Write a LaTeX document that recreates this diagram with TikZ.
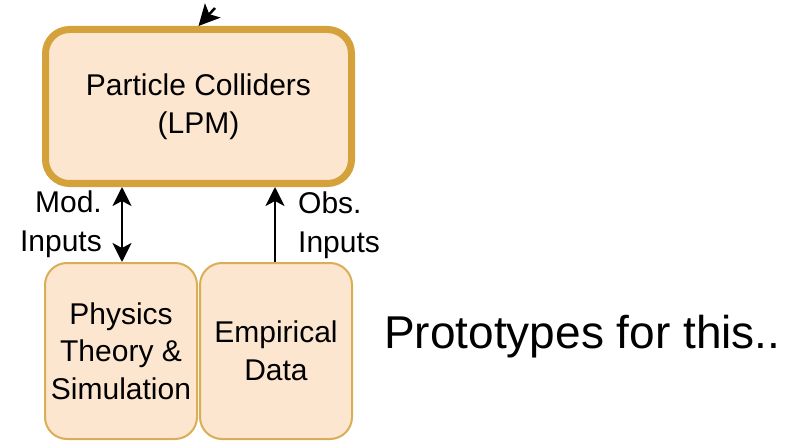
\documentclass[tikz,border=0pt]{standalone}
\usepackage{fontspec}
\setmainfont{Liberation Sans}
\usetikzlibrary{arrows.meta}
\definecolor{boxfill}{HTML}{FCE6CF}
\definecolor{topedge}{HTML}{D4A13A}
\definecolor{lowedge}{HTML}{D9AE55}
\tikzset{
  topbox/.style={draw=topedge, fill=boxfill, line width=7pt, rounded corners=24pt,
    minimum width=306pt, minimum height=154pt, inner sep=0pt, align=center,
    font=\fontsize{30}{37.5}\selectfont},
  lowbox/.style={draw=lowedge, fill=boxfill, line width=2pt, rounded corners=22pt,
    minimum width=152pt, minimum height=176pt, inner sep=0pt, align=center,
    font=\fontsize{30}{37.5}\selectfont},
  lbl/.style={inner sep=0pt, font=\fontsize{30}{38.5}\selectfont},
  arr/.style={line width=2.5pt, -{Stealth[length=19pt,width=19pt,inset=5pt]}},
  darr/.style={line width=2.5pt, {Stealth[length=19pt,width=19pt,inset=5pt]}-{Stealth[length=19pt,width=19pt,inset=5pt]}}
}
\begin{document}
\begin{tikzpicture}[x=1pt,y=-1pt]
\useasboundingbox (0,0) rectangle (790,441);
\clip (0,0) rectangle (790,441);
\node[topbox] (top) at (198.5,106.5) {Particle Colliders\\(LPM)};
\node[lowbox] (phys) at (121,351) {Physics\\Theory \&\\Simulation};
\node[lowbox] (emp) at (276,351) {Empirical\\Data};
\coordinate (src) at (215,8);
\draw[line width=2.5pt, -{Stealth[length=21pt,width=21pt,inset=5pt]}] (src) -- (top.north);
\coordinate (mx) at (122,0);
\coordinate (ox) at (275,0);
\draw[darr] (phys.north -| mx) -- (top.south -| mx);
\draw[arr] (emp.north -| ox) -- (top.south -| ox);
\node[lbl, anchor=north east, align=right] (modl) at (102,191) {Mod.\\Inputs};
\node[lbl, anchor=north west, align=left] (obsl) at (298,192) {Obs.\\Inputs};
\node[inner sep=0pt, anchor=base west, font=\fontsize{46}{50}\selectfont] (proto) at (384,348) {Prototypes for this..};
\end{tikzpicture}
\end{document}
